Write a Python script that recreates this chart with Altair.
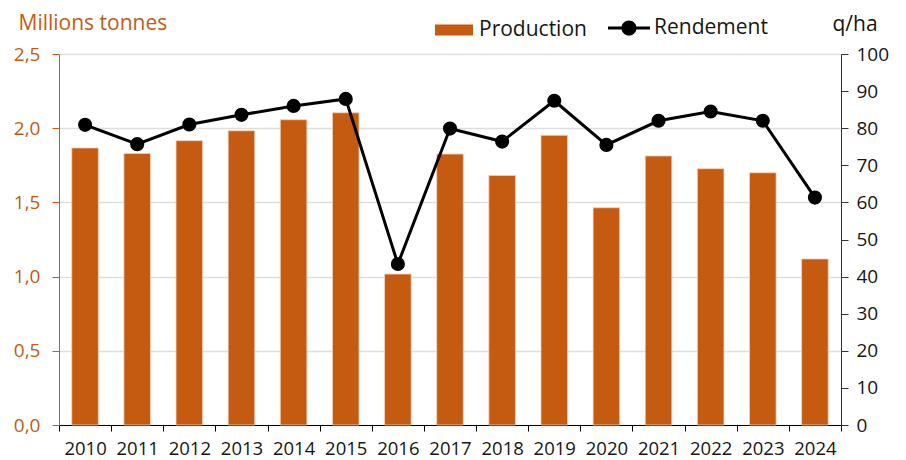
import altair as alt
import pandas as pd

years = [str(y) for y in range(2010, 2025)]
production = [1.867, 1.83, 1.916, 1.983, 2.057, 2.104, 1.017, 1.826, 1.682,
              1.952, 1.464, 1.813, 1.727, 1.70, 1.119]
rendement = [80.9, 75.7, 81.0, 83.6, 86.0, 87.9, 43.4, 79.9, 76.4,
             87.4, 75.5, 82.0, 84.5, 82.0, 61.3]
left_ticks = [0, 0.5, 1.0, 1.5, 2.0, 2.5]
right_ticks = list(range(0, 101, 10))

df = pd.DataFrame({
    "annee": years,
    "production": production,
    "rendement": rendement,
    "s1": "Production",
    "s2": "Rendement",
})

ORANGE = "#C55A11"
FONT = "Open Sans"
TXT = "#161616"

x_enc = alt.X(
    "annee:N", title=None,
    scale=alt.Scale(paddingInner=0, paddingOuter=0),
    axis=alt.Axis(labelAngle=0, tickBand="extent", domainColor="black",
                  tickColor="black", tickSize=6, labelFontSize=18.5,
                  labelColor=TXT, labelPadding=8, grid=False, domainWidth=1.2),
)

y_right = alt.Y(
    "rendement:Q",
    scale=alt.Scale(domain=[0, 100]),
    axis=alt.Axis(
        orient="right", title="q/ha", titleAngle=0, titleAlign="left",
        titleBaseline="middle", titleX=-9, titleY=-30,
        titleColor=TXT, titleFontSize=21, titleFontWeight="normal",
        values=right_ticks, labelColor=TXT, labelFontSize=19,
        labelPadding=8, domainColor="#333333", tickColor="#333333",
        tickSize=7, grid=False,
    ),
)

bars = alt.Chart(df).mark_bar(
    width=alt.RelativeBandSize(0.51), stroke="#f3d3bd", strokeWidth=0.8
).encode(
    x=x_enc,
    y=alt.Y("production:Q",
            scale=alt.Scale(domain=[0, 2.5]),
            axis=alt.Axis(
                title="Millions tonnes", titleAngle=0, titleAlign="left",
                titleBaseline="middle", titleX=-41, titleY=-31,
                titleColor=ORANGE, titleFontSize=21, titleFontWeight="normal",
                values=left_ticks,
                labelExpr="replace(format(datum.value, '.1f'), '.', ',')",
                labelColor=ORANGE, labelFontSize=19, labelPadding=12,
                domainColor=ORANGE, tickColor=ORANGE, tickSize=7,
                grid=True, gridColor="#dedede", gridWidth=1.5,
            )),
    color=alt.Color("s1:N",
                    scale=alt.Scale(domain=["Production"], range=[ORANGE]),
                    legend=alt.Legend(
                        title=None, orient="none", legendX=376, legendY=-43,
                        symbolType="M-1,-0.29L1,-0.29L1,0.29L-1,0.29Z",
                        symbolSize=1444, symbolStrokeWidth=0,
                        labelFontSize=21, labelColor=TXT, labelOffset=6,
                    )),
)

line = alt.Chart(df).mark_line(color="black", strokeWidth=3).encode(
    x=x_enc,
    y=y_right,
)

points = alt.Chart(df).mark_circle(size=200, opacity=1).encode(
    x=x_enc,
    y=y_right,
    fill=alt.Fill("s2:N",
                  scale=alt.Scale(domain=["Rendement"], range=["black"]),
                  legend=alt.Legend(
                      title=None, orient="none", legendX=549, legendY=-47,
                      symbolType="M-1,-0.07L-0.3,-0.07L-0.3,0.07L-1,0.07ZM0.3,-0.07L1,-0.07L1,0.07L0.3,0.07ZM-0.36,0A0.36,0.36,0,1,1,0.36,0A0.36,0.36,0,1,1,-0.36,0Z",
                      symbolSize=1764, symbolStrokeWidth=0,
                      labelFontSize=21, labelColor=TXT, labelOffset=4,
                  )),
)

chart = alt.layer(bars, alt.layer(line, points)).resolve_scale(
    y="independent"
).properties(
    width=782, height=371,
    autosize=alt.AutoSizeParams(type="none"),
    padding={"left": 51, "top": 46, "right": 57, "bottom": 36},
).configure_axis(
    labelFont=FONT, titleFont=FONT,
).configure_legend(
    labelFont=FONT,
).configure_view(stroke=None)

chart.save("out.html", embed_options={"renderer": "svg", "actions": False})
